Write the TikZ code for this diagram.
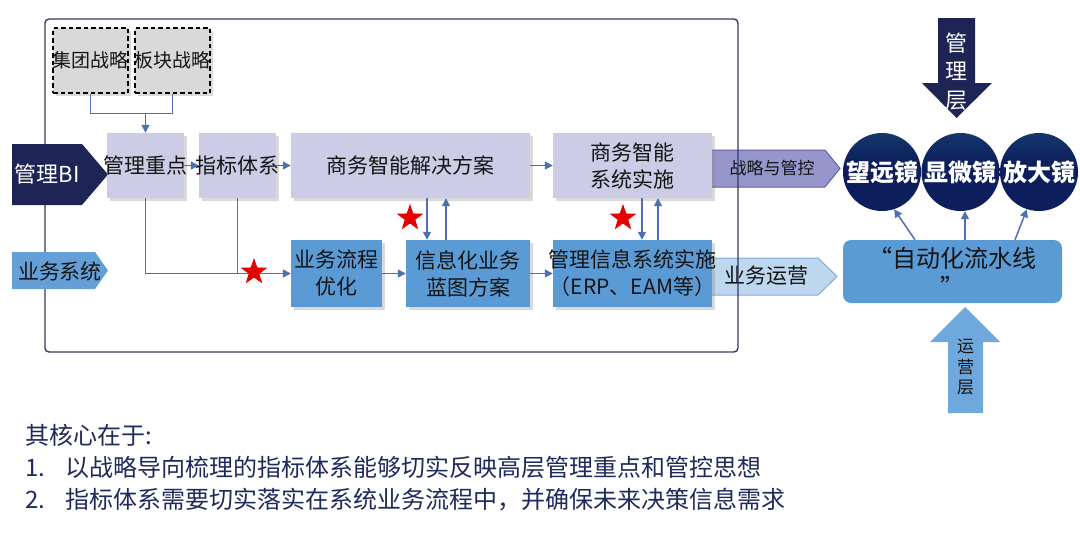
\documentclass[tikz,border=0pt]{standalone}
\usepackage{fontspec}
\setmainfont{Noto Sans CJK SC}
\usetikzlibrary{shapes.geometric,arrows.meta,shadows,calc}
\definecolor{lav}{RGB}{204,204,230}
\definecolor{lgray}{RGB}{217,217,217}
\definecolor{bbox}{RGB}{91,155,213}
\definecolor{tagblue}{RGB}{100,160,215}
\definecolor{upblue}{RGB}{111,168,220}
\definecolor{navy}{RGB}{31,36,86}
\definecolor{conncol}{RGB}{79,111,179}
\definecolor{framecol}{RGB}{52,56,100}
\definecolor{starred}{RGB}{230,0,0}
\definecolor{purpfill}{RGB}{150,150,205}
\definecolor{purpdraw}{RGB}{95,95,165}
\definecolor{opfill}{RGB}{189,215,238}
\definecolor{opdraw}{RGB}{130,170,215}
\definecolor{lnavy}{RGB}{12,30,92}
\definecolor{lmid}{RGB}{22,62,112}
\definecolor{lteal}{RGB}{50,128,145}
\definecolor{boxtext}{RGB}{20,20,20}
\definecolor{bottomtext}{RGB}{31,42,92}
\pgfdeclareverticalshading{lensshade}{100bp}{color(0bp)=(lnavy); color(55bp)=(lnavy); color(80bp)=(lmid); color(100bp)=(lteal)}
\newcommand\zwbox[1]{\makebox[0pt]{#1}}
\begin{document}
\begin{tikzpicture}[x=1pt,y=-1pt,
  box/.style={rectangle, inner sep=0pt, align=center, font=\fontsize{21}{27}\selectfont, text=boxtext,
    drop shadow={opacity=0.3, shadow xshift=2.5pt, shadow yshift=-2.5pt}},
  lavbox/.style={box, fill=lav},
  bluebox/.style={box, fill=bbox},
  stratbox/.style={box, fill=lgray, draw=black, dash pattern=on 4.5pt off 3pt, line width=1.2pt, font=\fontsize{19}{24}\selectfont},
  conn/.style={draw=conncol, line width=1.5pt, -{Triangle[length=8pt,width=8pt]}},
  plain/.style={draw=conncol, line width=1.5pt},
  redstar/.style={star, star points=5, star point ratio=2.5, fill=starred, draw=none, minimum size=28pt, inner sep=0pt},
  lens/.style={circle, minimum size=78pt, inner sep=0pt, shade, shading=lensshade, text=white, font=\fontsize{24}{24}\selectfont\bfseries},
  bottomline/.style={anchor=west, text=bottomtext, font=\fontsize{24}{24}\selectfont, inner sep=0pt}
]
\useasboundingbox (0,0) rectangle (1080,533);

% right-hand arrows (behind frame)
\draw[fill=purpfill, draw=purpdraw, line width=1pt] (700,150) -- (825,150) -- (840,168.5) -- (825,187) -- (700,187) -- cycle;
\node[font=\fontsize{17}{17}\selectfont, text=boxtext] (zlgk) at (772,168) {战略与管控};
\draw[fill=opfill, draw=opdraw, line width=1pt] (700,258) -- (818,258) -- (837,276.5) -- (818,295) -- (700,295) -- cycle;
\node[font=\fontsize{21}{21}\selectfont, text=boxtext] (ywyy) at (766,276) {业务运营};

% frame
\draw[framecol, line width=1.4pt, rounded corners=4pt] (45,19) rectangle (738,352);

% left tags
\draw[fill=navy, draw=none] (12,144) -- (82,144) -- (108,174.5) -- (82,205) -- (12,205) -- cycle;
\node[text=white, font=\fontsize{22}{22}\selectfont] (bi) at (47,174.5) {管理BI};
\draw[fill=tagblue, draw=none] (12,252) -- (95,252) -- (108,270.5) -- (95,289) -- (12,289) -- cycle;
\node[text=boxtext, font=\fontsize{21}{21}\selectfont] (ywxt) at (60,271) {业务系统};

% strategy boxes
\node[stratbox, minimum width=75pt, minimum height=65pt] (jt) at (90.5,60.5) {\zwbox{集团战略}};
\node[stratbox, minimum width=75pt, minimum height=65pt] (bk) at (172.5,60.5) {\zwbox{板块战略}};

% top row
\node[lavbox, minimum width=77pt, minimum height=65pt] (zd) at (145.5,165.5) {\zwbox{管理重点}};
\node[lavbox, minimum width=77pt, minimum height=65pt] (zb) at (237.5,165.5) {\zwbox{指标体系}};
\node[lavbox, minimum width=239pt, minimum height=65pt] (jj) at (410.5,165.5) {商务智能解决方案};
\node[lavbox, minimum width=159pt, minimum height=65pt] (ss) at (632.5,165.5) {商务智能\\系统实施};

% bottom row
\node[bluebox, minimum width=91pt, minimum height=67pt] (lc) at (336.5,273.5) {\zwbox{业务流程}\\\zwbox{优化}};
\node[bluebox, minimum width=124pt, minimum height=67pt] (lt) at (468,273.5) {信息化业务\\蓝图方案};
\node[bluebox, minimum width=159pt, minimum height=67pt] (gl) at (632.5,273.5) {\zwbox{管理信息系统实施}\\\zwbox{（ERP、EAM等）}};

% connectors
\draw[plain] (jt.south) -- ++(0,20) coordinate (j1) -| (bk.south);
\draw[conn] (j1 -| zd.north) -- (zd.north);
\draw[conn] (zd) -- (zb);
\draw[conn] (zb) -- (jj);
\draw[conn] (jj) -- (ss);
\draw[conn] (zd.south) |- (lc.west);
\draw[plain] (zb.south) -- (zb.south |- lc.west);
\draw[conn] (lc) -- (lt);
\draw[conn] (lt) -- (gl);
\coordinate (d1) at (427,0);
\coordinate (u1) at (446,0);
\coordinate (d2) at (642,0);
\coordinate (u2) at (658,0);
\draw[conn] (jj.south -| d1) -- (lt.north -| d1);
\draw[conn] (lt.north -| u1) -- (jj.south -| u1);
\draw[conn] (ss.south -| d2) -- (gl.north -| d2);
\draw[conn] (gl.north -| u2) -- (ss.south -| u2);

% stars
\node[redstar] (s1) at (254,272) {};
\node[redstar] (s2) at (410,218) {};
\node[redstar] (s3) at (623,218) {};

% management layer arrow
\draw[fill=navy, draw=none] (938,18) -- (975,18) -- (975,83) -- (992,83) -- (956.5,118) -- (922,83) -- (938,83) -- cycle;
\node[text=white, align=center, font=\fontsize{22}{28.5}\selectfont, inner sep=0pt] (glc) at (956.5,71.5) {管\\理\\层};

% lenses
\node[lens] (l1) at (882,172) {望远镜};
\node[lens] (l2) at (960.5,172) {显微镜};
\node[lens] (l3) at (1039,172) {放大镜};

% automation box
\node[rectangle, rounded corners=8pt, fill=bbox, minimum width=219pt, minimum height=63pt, inner sep=0pt, align=center,
  text=boxtext, font=\fontsize{24}{29}\selectfont] (auto) at (952.5,271.5) {“自动化流水线\\”};
\draw[conn] ([xshift=-37.5pt]auto.north) -- (l1.-72);
\draw[conn] ([xshift=12.5pt]auto.north) -- (l2.south -| 965,0);
\draw[conn] ([xshift=62.5pt]auto.north) -- (l3.-108);

% operations layer arrow
\draw[fill=upblue, draw=none] (948,413) -- (948,342) -- (930,342) -- (965,307) -- (1000,342) -- (983,342) -- (983,413) -- cycle;
\node[text=boxtext, align=center, font=\fontsize{17}{20.5}\selectfont, inner sep=0pt] (yyc) at (965.5,367.5) {运\\营\\层};

% bottom text
\node[bottomline] (core) at (25,435) {其核心在于:};
\node[bottomline] (pt1) at (25,467) {\makebox[40pt][l]{1.}以战略导向梳理的指标体系能够切实反映高层管理重点和管控思想};
\node[bottomline] (pt2) at (25,500) {\makebox[40pt][l]{2.}指标体系需要切实落实在系统业务流程中，并确保未来决策信息需求};
\end{tikzpicture}
\end{document}
